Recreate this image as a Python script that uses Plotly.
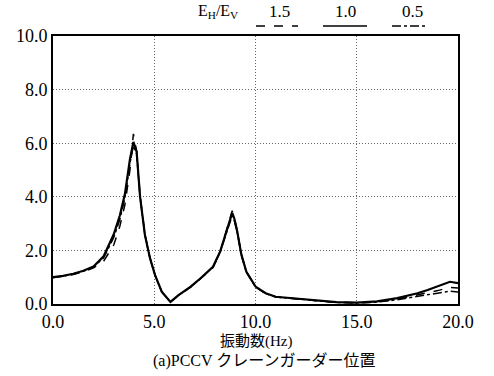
import plotly.graph_objects as go

# Frequency (Hz) sample points
freq_main = [0.0, 0.5, 1.0, 1.5, 2.0, 2.5, 3.0, 3.3, 3.55, 3.8, 3.97, 4.13, 4.3, 4.54,
             4.79, 5.04, 5.37, 5.7, 5.8, 6.2, 6.8, 7.3, 7.9, 8.25, 8.55, 8.75, 8.85,
             8.95, 9.1, 9.3, 9.55, 10.0, 10.5, 11.0, 12.0, 13.0, 14.0, 15.0, 16.0,
             17.0, 18.0, 18.5, 19.0, 19.6, 20.0]

# EH/EV = 1.0 (solid)
ratio_10 = [1.00, 1.05, 1.13, 1.24, 1.40, 1.78, 2.60, 3.30, 4.10, 5.40, 6.05, 5.68, 4.00,
            2.57, 1.71, 1.08, 0.46, 0.15, 0.08, 0.33, 0.65, 0.97, 1.39, 1.95, 2.70, 3.20,
            3.40, 3.20, 2.70, 1.85, 1.20, 0.65, 0.40, 0.27, 0.21, 0.13, 0.07, 0.05, 0.10,
            0.22, 0.40, 0.52, 0.65, 0.83, 0.78]

# EH/EV = 1.5 (dashed)
ratio_15 = [0.98, 1.03, 1.10, 1.20, 1.35, 1.60, 2.20, 2.90, 3.70, 5.00, 6.35, 5.70, 4.05,
            2.60, 1.72, 1.08, 0.46, 0.15, 0.08, 0.32, 0.63, 0.95, 1.36, 1.92, 2.70, 3.25,
            3.48, 3.25, 2.72, 1.85, 1.20, 0.64, 0.39, 0.26, 0.20, 0.12, 0.06, 0.04, 0.08,
            0.18, 0.33, 0.42, 0.50, 0.62, 0.60]

# EH/EV = 0.5 (dash-dot)
ratio_05 = [1.00, 1.04, 1.12, 1.22, 1.38, 1.72, 2.48, 3.15, 3.95, 5.25, 5.90, 5.60, 3.98,
            2.56, 1.70, 1.07, 0.45, 0.15, 0.08, 0.33, 0.64, 0.96, 1.38, 1.93, 2.65, 3.10,
            3.30, 3.12, 2.66, 1.83, 1.19, 0.64, 0.39, 0.26, 0.20, 0.12, 0.06, 0.04, 0.07,
            0.16, 0.29, 0.36, 0.42, 0.48, 0.45]

x_ticks = [0, 5, 10, 15, 20]
y_ticks = [0, 2, 4, 6, 8, 10]
x_title = "振動数(Hz)"
subtitle = "(a)PCCV クレーンガーダー位置"
legend_title = "E<sub>H</sub>/E<sub>V</sub>"
legend_labels = ["1.5", "1.0", "0.5"]

serif = "Liberation Serif"
cjk = "Liberation Serif, Noto Sans CJK JP"

W, H = 494, 376
ML, MR, MT, MB = 53, 36, 36, 72

fig = go.Figure()
fig.add_trace(go.Scatter(x=freq_main, y=ratio_15, mode="lines",
                         line=dict(color="black", width=1.5, dash="dash"), name="1.5"))
fig.add_trace(go.Scatter(x=freq_main, y=ratio_05, mode="lines",
                         line=dict(color="black", width=1.5, dash="dashdot"), name="0.5"))
fig.add_trace(go.Scatter(x=freq_main, y=ratio_10, mode="lines",
                         line=dict(color="black", width=2.2), name="1.0"))

axis_common = dict(showline=True, linecolor="black", linewidth=2, mirror=True,
                   showgrid=True, gridcolor="#666", griddash="1px,2px", gridwidth=1,
                   zeroline=False, ticks="", automargin=False,
                   tickfont=dict(family=serif, size=18, color="black"))

fig.update_xaxes(range=[0, 20], tickvals=x_ticks,
                 ticktext=[f"{v:.1f}" for v in x_ticks], **axis_common)
fig.update_yaxes(range=[0, 10], tickvals=y_ticks,
                 ticktext=[f"{v:.1f}" for v in y_ticks], **axis_common)

fig.update_layout(width=W, height=H, margin=dict(l=ML, r=MR, t=MT, b=MB, autoexpand=False),
                  plot_bgcolor="white", paper_bgcolor="white", showlegend=False,
                  font=dict(family=serif, color="black"))

pw = W - ML - MR
ph = H - MT - MB
def px(xp):
    return (xp - ML) / pw
def py(yp):
    return (H - MB - yp) / ph

# x title and subtitle
fig.add_annotation(text=x_title, xref="paper", yref="paper", x=px(256), y=py(341),
                   xanchor="center", yanchor="middle", showarrow=False,
                   font=dict(family=cjk, size=15, color="black"))
fig.add_annotation(text=subtitle, xref="paper", yref="paper", x=px(264), y=py(361),
                   xanchor="center", yanchor="middle", showarrow=False,
                   font=dict(family=cjk, size=16, color="black"))

# legend drawn above plot
fig.add_annotation(text=legend_title, xref="paper", yref="paper", x=px(240), y=py(12),
                   xanchor="right", yanchor="middle", showarrow=False,
                   font=dict(family=serif, size=16, color="black"))
leg_pos = [(279, 256, 298, "dash"), (345, 323, 367, "solid"), (412, 392, 428, "dashdot")]
for lab, (cx, x0, x1, dash) in zip(legend_labels, leg_pos):
    fig.add_annotation(text=lab, xref="paper", yref="paper", x=px(cx), y=py(12),
                       xanchor="center", yanchor="middle", showarrow=False,
                       font=dict(family=serif, size=17, color="black"))
    fig.add_shape(type="line", xref="paper", yref="paper", x0=px(x0), x1=px(x1),
                  y0=py(26), y1=py(26), line=dict(color="black", width=1.5, dash=dash))

fig.write_html("out.html", config={"displayModeBar": False},
               post_script="document.body.style.margin='0';document.body.style.padding='0';")
